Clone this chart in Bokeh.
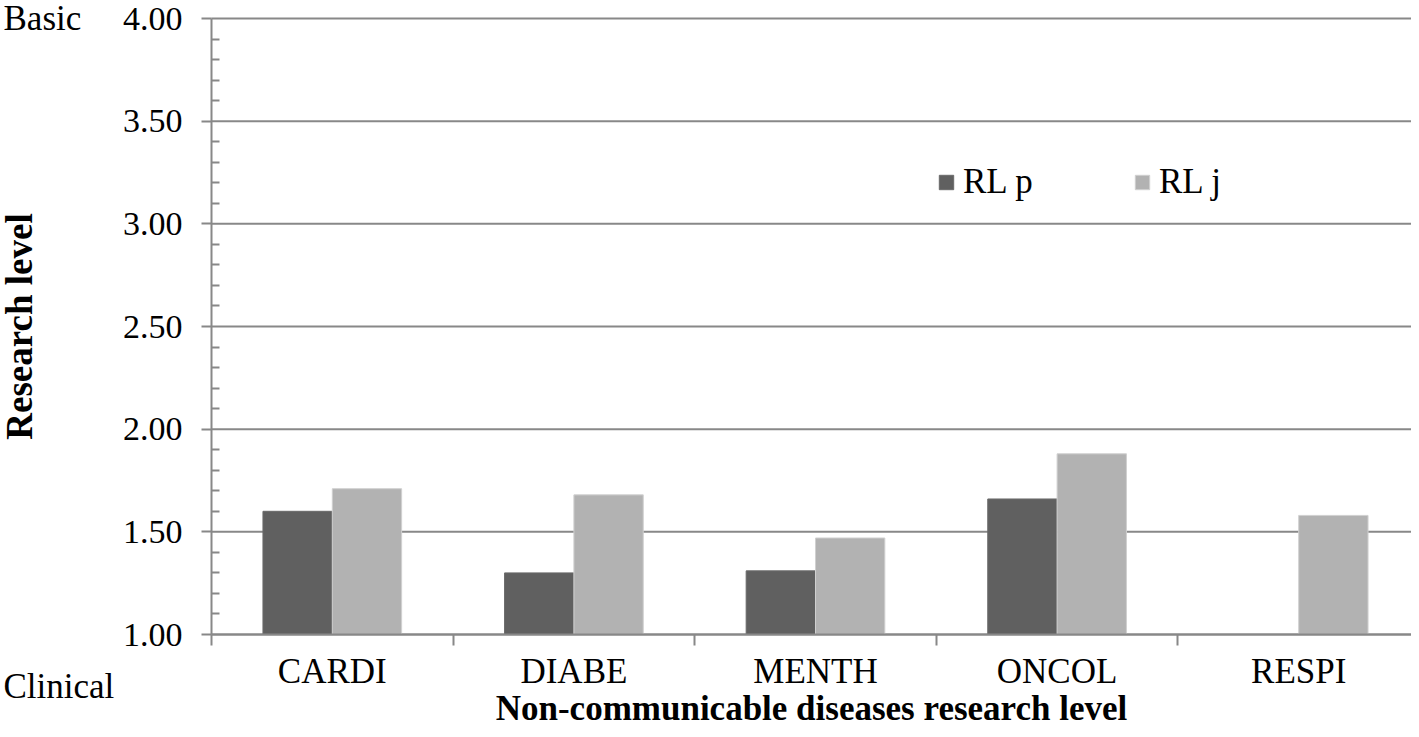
from bokeh.plotting import figure
from bokeh.models import (ColumnDataSource, FixedTicker, Range1d, Legend, LegendItem,
                          Label, NumeralTickFormatter)
from bokeh.embed import file_html
from bokeh.resources import INLINE

categories = ["CARDI", "DIABE", "MENTH", "ONCOL", "RESPI"]
rl_p = [1.60, 1.30, 1.31, 1.66, float("nan")]
rl_j = [1.71, 1.68, 1.47, 1.88, 1.58]
y_ticks = [1.0, 1.5, 2.0, 2.5, 3.0, 3.5, 4.0]
y_minor = [1.1, 1.2, 1.3, 1.4, 1.6, 1.7, 1.8, 1.9, 2.1, 2.2, 2.3, 2.4, 2.6, 2.7, 2.8, 2.9,
           3.1, 3.2, 3.3, 3.4, 3.6, 3.7, 3.8, 3.9]
series_names = ["RL p", "RL j"]
colors = ["#606060", "#b2b2b2"]
level_labels = ["Basic", "Clinical"]

FONT = "Liberation Serif"
GRID = "#888888"

n = len(categories)
centers = [i + 0.5 for i in range(n)]
bw = 0.287

# canvas / frame geometry (pixels)
W, H = 1411, 729
LEFT, TOP, BOTTOM = 211, 18, 634
px_x = 241.6                     # pixels per category
px_y = (BOTTOM - TOP) / (y_ticks[-1] - y_ticks[0])
x0 = -LEFT / px_x
x1 = x0 + W / px_x
y1 = y_ticks[-1] + TOP / px_y
y0 = y_ticks[0] - (H - BOTTOM) / px_y

p = figure(width=W, height=H, output_backend="svg", toolbar_location=None,
           x_range=Range1d(x0, x1), y_range=Range1d(y0, y1),
           min_border_left=0, min_border_right=0, min_border_top=0, min_border_bottom=0)
p.outline_line_color = None
p.background_fill_color = "white"
p.border_fill_color = "white"
p.xgrid.visible = False
p.ygrid.visible = False

# horizontal gridlines at the y ticks, spanning the category area
p.segment(x0=[0] * len(y_ticks), x1=[n] * len(y_ticks), y0=y_ticks, y1=y_ticks,
          line_color=GRID, line_width=2)

src = ColumnDataSource(dict(xp=[c - bw / 2 for c in centers], xj=[c + bw / 2 for c in centers],
                            p=rl_p, j=rl_j))
r1 = p.vbar(x="xp", top="p", bottom=y_ticks[0], width=bw, source=src, fill_color=colors[0],
            line_color="#6a6a6a", line_width=1)
r2 = p.vbar(x="xj", top="j", bottom=y_ticks[0], width=bw, source=src, fill_color=colors[1],
            line_color="#d0d0d0", line_width=1)

# y axis
ya = p.yaxis[0]
ya.fixed_location = 0
ya.bounds = (y_ticks[0], y_ticks[-1])
ya.ticker = FixedTicker(ticks=y_ticks, minor_ticks=y_minor)
ya.formatter = NumeralTickFormatter(format="0.00")
ya.axis_line_color = GRID
ya.axis_line_width = 2
ya.major_tick_line_color = GRID
ya.major_tick_line_width = 2
ya.major_tick_out = 10
ya.major_tick_in = 0
ya.minor_tick_line_color = GRID
ya.minor_tick_line_width = 2
ya.minor_tick_in = 8
ya.minor_tick_out = 0
ya.major_label_text_font = FONT
ya.major_label_text_font_size = "34px"
ya.major_label_text_color = "black"
ya.major_label_standoff = 19
ya.axis_label = "Research level"
ya.axis_label_text_font = FONT
ya.axis_label_text_font_style = "bold"
ya.axis_label_text_font_size = "37px"
ya.axis_label_text_color = "black"
ya.axis_label_standoff = 80

# x axis
xa = p.xaxis[0]
xa.fixed_location = y_ticks[0]
xa.bounds = (0, n)
xa.ticker = FixedTicker(ticks=centers, minor_ticks=list(range(n + 1)))
xa.major_label_overrides = {c: lab for c, lab in zip(centers, categories)}
xa.axis_line_color = GRID
xa.axis_line_width = 2
xa.major_tick_out = 0
xa.major_tick_in = 0
xa.minor_tick_line_color = GRID
xa.minor_tick_line_width = 2
xa.minor_tick_out = 11
xa.minor_tick_in = 0
xa.major_label_text_font = FONT
xa.major_label_text_font_size = "35px"
xa.major_label_text_color = "black"
xa.major_label_standoff = 6
xa.axis_label = "Non-communicable diseases research level"
xa.axis_label_text_font = FONT
xa.axis_label_text_font_style = "bold"
xa.axis_label_text_font_size = "35px"
xa.axis_label_text_color = "black"
xa.axis_label_standoff = -5

# legend
legend = Legend(items=[LegendItem(label=series_names[0], renderers=[r1]),
                       LegendItem(label=series_names[1], renderers=[r2])],
                orientation="horizontal", location=(937, 527),
                glyph_width=18, glyph_height=18, label_standoff=8, label_width=170,
                spacing=0, padding=0, margin=0,
                border_line_color=None, background_fill_alpha=0,
                label_text_font=FONT, label_text_font_size="35px", label_text_color="black")
p.add_layout(legend, "center")

# level labels at the two ends of the research-level scale
p.add_layout(Label(x=3, y=H - 18, x_units="screen", y_units="screen", text=level_labels[0],
                   text_font=FONT, text_font_size="35px",
                   text_baseline="middle", text_align="left", text_color="black"))
p.add_layout(Label(x=3, y=H - 686, x_units="screen", y_units="screen", text=level_labels[1],
                   text_font=FONT, text_font_size="35px",
                   text_baseline="middle", text_align="left", text_color="black"))

open("out.html", "w").write(file_html(p, INLINE))
